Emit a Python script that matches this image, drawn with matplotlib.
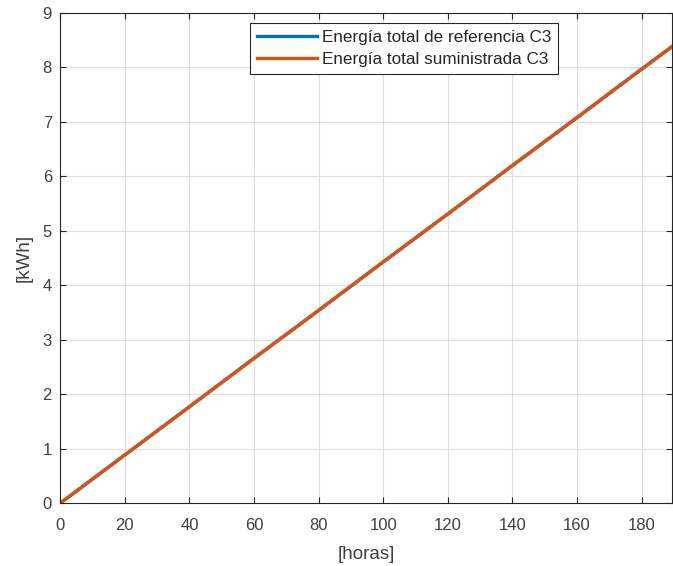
import matplotlib
matplotlib.use("Agg")
import matplotlib.pyplot as plt

# data (kWh vs horas), both curves overlap
horas = [0, 20, 40, 60, 80, 100, 120, 140, 160, 180, 190]
energia_ref = [0, 0.885, 1.77, 2.66, 3.54, 4.43, 5.31, 6.20, 7.08, 7.97, 8.41]
energia_sum = [0, 0.885, 1.77, 2.66, 3.54, 4.43, 5.31, 6.20, 7.08, 7.97, 8.41]
xticks = [0, 20, 40, 60, 80, 100, 120, 140, 160, 180]
yticks = [0, 1, 2, 3, 4, 5, 6, 7, 8, 9]

plt.rcParams['font.family'] = ['Liberation Sans', 'DejaVu Sans']
dark = '#262626'
gray = '#404040'

fig = plt.figure(figsize=(6.73, 5.66), dpi=100)
ax = fig.add_axes([0.0895, 0.111, 0.9095, 0.866])

ax.plot(horas, energia_ref, color='#0072BD', lw=2.4, label='Energía total de referencia C3')
ax.plot(horas, energia_sum, color='#D95319', lw=2.4, label='Energía total suministrada C3')

ax.set_xlim(0, 189.5)
ax.set_ylim(0, 9)
ax.set_xticks(xticks)
ax.set_yticks(yticks)
ax.grid(True, color='#dedede', lw=0.8)
ax.set_axisbelow(True)
ax.tick_params(direction='in', top=True, right=True, length=4, width=0.8,
               colors=dark, labelcolor=gray, labelsize=12)
ax.tick_params(axis='x', pad=11)
ax.tick_params(axis='y', pad=6)
for s in ax.spines.values():
    s.set_color(dark)
    s.set_linewidth(0.8)

ax.set_xlabel('[horas]', fontsize=13.5, color=gray, labelpad=9)
ax.set_ylabel('[kWh]', fontsize=13.5, color=gray, labelpad=7)

leg = ax.legend(loc='upper left', bbox_to_anchor=(0.310, 0.980), borderaxespad=0,
                fontsize=12.3, fancybox=False, framealpha=1, edgecolor=dark,
                handlelength=3.5, handletextpad=0.3, borderpad=0.4, labelspacing=0.45)
leg.get_frame().set_linewidth(0.8)
for t in leg.get_texts():
    t.set_color(dark)

fig.savefig('out.png', dpi=100)
